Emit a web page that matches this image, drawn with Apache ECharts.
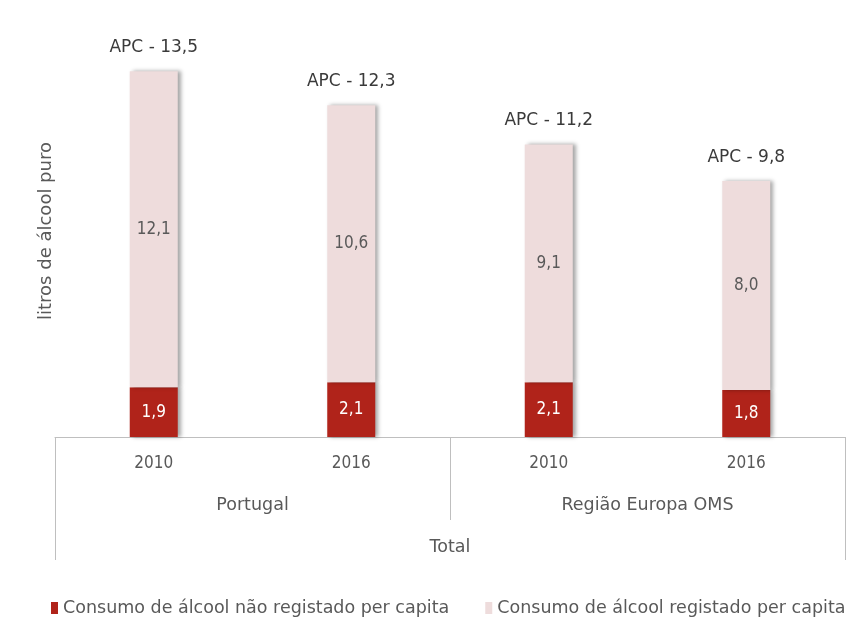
<!DOCTYPE html>
<html>
<head>
<meta charset="utf-8">
<script src="https://cdn.jsdelivr.net/npm/echarts@6/dist/echarts.min.js"></script>
<style>
  html, body { margin: 0; padding: 0; background: #fff; }
  #chart { width: 862px; height: 622px; }
</style>
</head>
<body>
<div id="chart"></div>
<script>
  const years = ["2010", "2016", "2010", "2016"];
  const regions = ["Portugal", "Região Europa OMS"];
  const groupLabel = ["Total"];
  const naoRegistado = [1.9, 2.1, 2.1, 1.8];
  const registado = [12.1, 10.6, 9.1, 8.0];
  const apc = [13.5, 12.3, 11.2, 9.8];

  const COLORS = {
    dark: "#b0231a",
    light: "#eedcdc",
    text: "#595959",
    strong: "#3a3a3a",
    line: "#bfbfbf",
  };
  const GOTHIC = "'DejaVu Sans', sans-serif";
  const NARROW = "'DejaVu Sans Condensed', Roboto, sans-serif";

  const fmt = (v) => String(v.toFixed(1)).replace(".", ",");

  const barShadow = {
    shadowBlur: 4,
    shadowOffsetX: 3,
    shadowOffsetY: 0,
    shadowColor: "rgba(0,0,0,0.35)",
  };

  const chart = echarts.init(document.getElementById("chart"));
  chart.setOption({
    animation: false,
    grid: { left: 55, right: 17, top: 19, bottom: 185 },
    legend: {
      data: ["Consumo de álcool não registado per capita", "Consumo de álcool registado per capita"],
      icon: "rect",
      left: 46,
      top: 594,
      itemWidth: 7,
      itemHeight: 12,
      itemGap: 36,
      textStyle: { fontFamily: GOTHIC, fontSize: 17.5, color: COLORS.text },
    },
    xAxis: [
      {
        type: "category",
        data: years,
        axisLine: { lineStyle: { color: COLORS.line } },
        axisTick: { show: false },
        axisLabel: { margin: 18, fontFamily: NARROW, fontSize: 17, color: COLORS.text },
      },
      {
        type: "category",
        data: regions,
        position: "bottom",
        axisLine: { show: false },
        axisTick: { show: true, length: 83, lineStyle: { color: COLORS.line } },
        axisLabel: { margin: 59, fontFamily: GOTHIC, fontSize: 17.5, color: COLORS.text },
      },
      {
        type: "category",
        data: groupLabel,
        position: "bottom",
        axisLine: { show: false },
        axisTick: { show: true, length: 123, lineStyle: { color: COLORS.line } },
        axisLabel: { margin: 101, fontFamily: GOTHIC, fontSize: 17.5, color: COLORS.text },
      },
    ],
    yAxis: {
      type: "value",
      min: 0,
      max: 16,
      axisLine: { show: false },
      axisTick: { show: false },
      axisLabel: { show: false },
      splitLine: { show: false },
      name: "litros de álcool puro",
      nameLocation: "middle",
      nameGap: 0,
      nameTextStyle: { fontFamily: GOTHIC, fontSize: 18, color: COLORS.text, padding: [0, 6, 0, 0] },
    },
    series: [
      {
        name: "Consumo de álcool não registado per capita",
        type: "bar",
        stack: "apc",
        barWidth: 48,
        data: naoRegistado,
        itemStyle: Object.assign({ color: COLORS.dark }, barShadow),
        label: {
          show: true,
          position: "inside",
          formatter: (p) => fmt(p.value),
          fontFamily: NARROW,
          fontSize: 17,
          color: "#ffffff",
        },
      },
      {
        name: "Consumo de álcool registado per capita",
        type: "bar",
        stack: "apc",
        data: registado,
        itemStyle: Object.assign({ color: COLORS.light }, barShadow),
        label: {
          show: true,
          position: "inside",
          formatter: (p) => fmt(p.value),
          fontFamily: NARROW,
          fontSize: 17,
          color: COLORS.text,
        },
      },
      {
        name: "APC",
        type: "bar",
        stack: "apc",
        data: apc.map(() => 0),
        itemStyle: { color: "transparent" },
        label: {
          show: true,
          position: "top",
          distance: 15,
          formatter: (p) => "APC - " + fmt(apc[p.dataIndex]),
          fontFamily: GOTHIC,
          fontSize: 17,
          color: COLORS.strong,
        },
      },
    ],
  });
</script>
</body>
</html>
